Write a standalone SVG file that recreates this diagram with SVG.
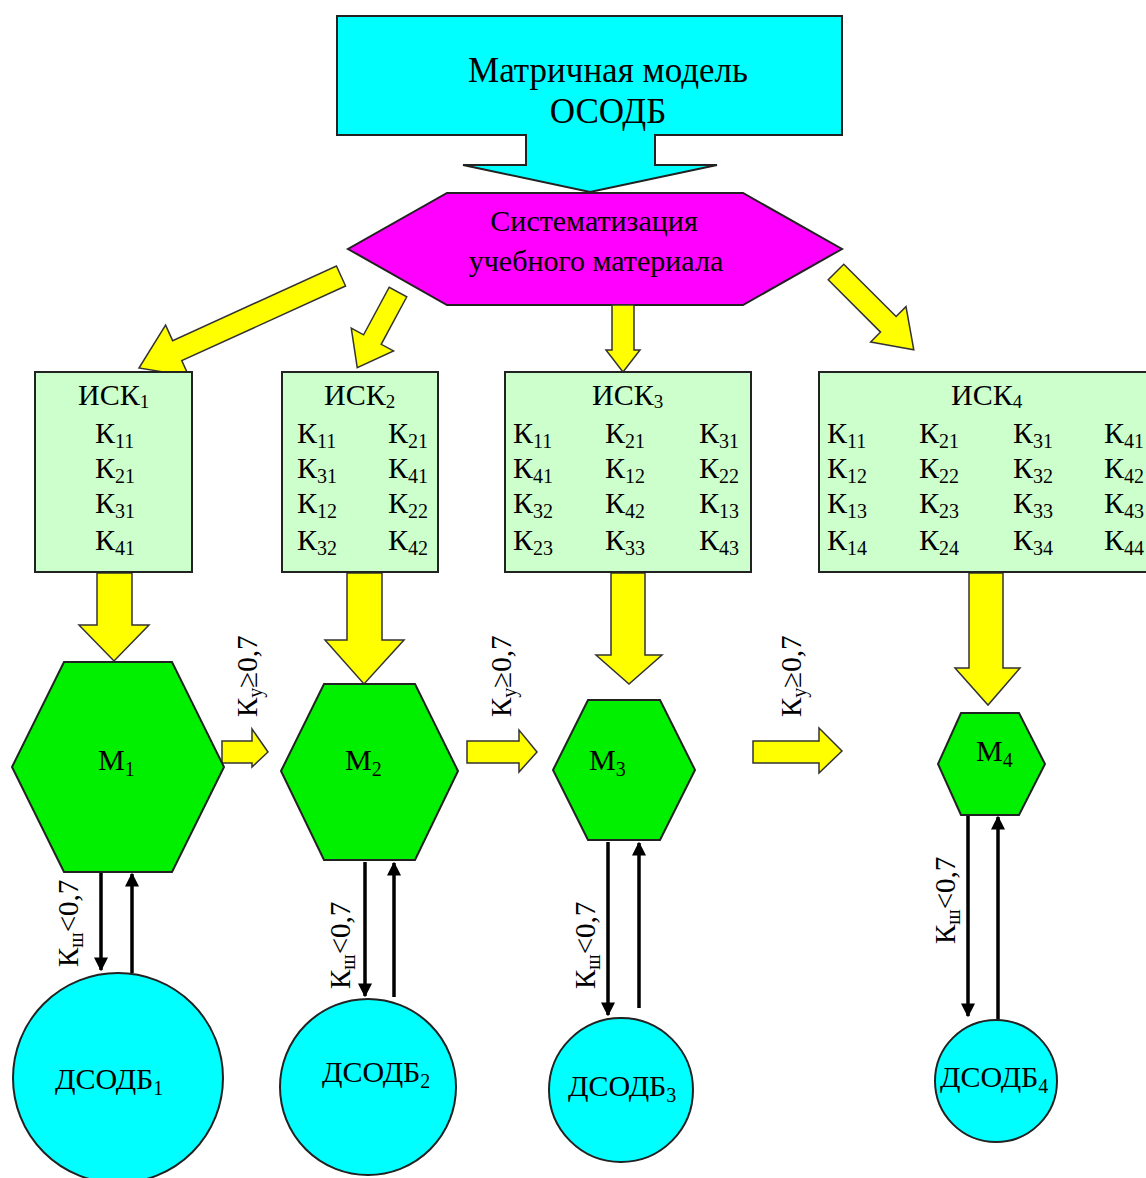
<svg xmlns="http://www.w3.org/2000/svg" width="1146" height="1178" viewBox="0 0 1146 1178">
<style>
text{font-family:"Liberation Serif","Times New Roman",serif;fill:#000}
.sh{stroke:#222;stroke-width:2;stroke-linejoin:miter}
.cyan{fill:#00FFFF}
.mag{fill:#FF00FF}
.grn{fill:#00F000}
.lg{fill:#CCFFCC}
.yel{fill:#FFFF00;stroke:#333;stroke-width:1.5}
.k{font-size:30px}
.t{font-size:35px;text-anchor:middle}
.lab{font-size:29px}
.d{font-size:30px}
.blk{stroke:#000;stroke-width:3.5;fill:none}
</style>
<defs>
<marker id="ah" viewBox="0 0 10 10" refX="9" refY="5" markerWidth="4" markerHeight="5" orient="auto" markerUnits="strokeWidth">
<path d="M0,0 L10,5 L0,10 Z" fill="#000"/>
</marker>
</defs>

<g id="top">
<path class="sh cyan" d="M337,16 H842 V135 H655 V165 H717 L590,192 L463,165 H526 V135 H337 Z"/>
<text class="t" x="608" y="82">Матричная модель</text>
<text class="t" x="608" y="123">ОСОДБ</text>
</g>

<g id="sys">
<path class="sh mag" d="M447,193 H743 L842,249 L743,305 H447 L348,249 Z"/>
<text x="594" y="231" style="font-size:30px;text-anchor:middle">Систематизация</text>
<text x="596" y="271" style="font-size:30px;text-anchor:middle">учебного материала</text>
</g>

<g id="connectors">
<path class="yel" transform="translate(341,276) rotate(155.5)" d="M0,-11 L180,-11 L180,-28 L222,0 L180,28 L180,11 L0,11 Z"/>
<path class="yel" transform="translate(398,292) rotate(118.3)" d="M0,-10 L54,-10 L54,-24 L86,0 L54,24 L54,10 L0,10 Z"/>
<path class="yel" transform="translate(623,305) rotate(90)" d="M0,-11 L45,-11 L45,-17 L67,0 L45,17 L45,11 L0,11 Z"/>
<path class="yel" transform="translate(836,272) rotate(45)" d="M0,-11 L74,-11 L74,-25 L110,0 L74,25 L74,11 L0,11 Z"/>
<path class="yel" d="M97,573 H132 V625 H149 L114,661 L79,625 H97 Z"/>
<path class="yel" d="M347,573 H382 V640 H404 L364,684 L325,640 H347 Z"/>
<path class="yel" d="M611,573 H645 V655 H662 L629,684 L596,655 H611 Z"/>
<path class="yel" d="M969,573 H1003 V668 H1020 L988,705 L955,668 H969 Z"/>
<path class="yel" d="M222,741 H252 V729 L268,752 L252,767 V763 H222 Z"/>
<path class="yel" d="M467,741 H519 V730 L537,752 L519,772 V763 H467 Z"/>
<path class="yel" d="M753,741 H819 V728 L842,751 L819,773 V763 H753 Z"/>
<line class="blk" x1="101" y1="873" x2="101" y2="970" marker-end="url(#ah)"/>
<line class="blk" x1="132" y1="973" x2="132" y2="874" marker-end="url(#ah)"/>
<line class="blk" x1="365" y1="862" x2="365" y2="996" marker-end="url(#ah)"/>
<line class="blk" x1="394" y1="997" x2="394" y2="863" marker-end="url(#ah)"/>
<line class="blk" x1="608" y1="842" x2="608" y2="1015" marker-end="url(#ah)"/>
<line class="blk" x1="639" y1="1008" x2="639" y2="843" marker-end="url(#ah)"/>
<line class="blk" x1="968" y1="816" x2="968" y2="1016" marker-end="url(#ah)"/>
<line class="blk" x1="998" y1="1020" x2="998" y2="817" marker-end="url(#ah)"/>
<text class="lab" transform="translate(257,717) rotate(-90)">К<tspan font-size="20" dy="5">у</tspan><tspan dy="-5">≥0,7</tspan></text>
<text class="lab" transform="translate(511,717) rotate(-90)">К<tspan font-size="20" dy="5">у</tspan><tspan dy="-5">≥0,7</tspan></text>
<text class="lab" transform="translate(801,717) rotate(-90)">К<tspan font-size="20" dy="5">у</tspan><tspan dy="-5">≥0,7</tspan></text>
<text class="lab" transform="translate(78,967) rotate(-90)">К<tspan font-size="20" dy="5">ш</tspan><tspan dy="-5">&lt;0,7</tspan></text>
<text class="lab" transform="translate(350,989) rotate(-90)">К<tspan font-size="20" dy="5">ш</tspan><tspan dy="-5">&lt;0,7</tspan></text>
<text class="lab" transform="translate(595,989) rotate(-90)">К<tspan font-size="20" dy="5">ш</tspan><tspan dy="-5">&lt;0,7</tspan></text>
<text class="lab" transform="translate(955,944) rotate(-90)">К<tspan font-size="20" dy="5">ш</tspan><tspan dy="-5">&lt;0,7</tspan></text>
</g>

<g id="isk1">
<rect class="sh lg" x="35" y="372" width="157" height="200"/>
<text class="k" x="78" y="405">ИСК<tspan font-size="19" dy="3">1</tspan></text>
<text class="k" x="95" y="443">К<tspan font-size="20" dy="5">11</tspan></text>
<text class="k" x="95" y="478">К<tspan font-size="20" dy="5">21</tspan></text>
<text class="k" x="95" y="513">К<tspan font-size="20" dy="5">31</tspan></text>
<text class="k" x="95" y="550">К<tspan font-size="20" dy="5">41</tspan></text>
</g>

<g id="isk2">
<rect class="sh lg" x="282" y="372" width="156" height="200"/>
<text class="k" x="324" y="405">ИСК<tspan font-size="19" dy="3">2</tspan></text>
<text class="k" x="297" y="443">К<tspan font-size="20" dy="5">11</tspan></text>
<text class="k" x="297" y="478">К<tspan font-size="20" dy="5">31</tspan></text>
<text class="k" x="297" y="513">К<tspan font-size="20" dy="5">12</tspan></text>
<text class="k" x="297" y="550">К<tspan font-size="20" dy="5">32</tspan></text>
<text class="k" x="388" y="443">К<tspan font-size="20" dy="5">21</tspan></text>
<text class="k" x="388" y="478">К<tspan font-size="20" dy="5">41</tspan></text>
<text class="k" x="388" y="513">К<tspan font-size="20" dy="5">22</tspan></text>
<text class="k" x="388" y="550">К<tspan font-size="20" dy="5">42</tspan></text>
</g>

<g id="isk3">
<rect class="sh lg" x="505" y="372" width="246" height="200"/>
<text class="k" x="592" y="405">ИСК<tspan font-size="19" dy="3">3</tspan></text>
<text class="k" x="513" y="443">К<tspan font-size="20" dy="5">11</tspan></text>
<text class="k" x="513" y="478">К<tspan font-size="20" dy="5">41</tspan></text>
<text class="k" x="513" y="513">К<tspan font-size="20" dy="5">32</tspan></text>
<text class="k" x="513" y="550">К<tspan font-size="20" dy="5">23</tspan></text>
<text class="k" x="605" y="443">К<tspan font-size="20" dy="5">21</tspan></text>
<text class="k" x="605" y="478">К<tspan font-size="20" dy="5">12</tspan></text>
<text class="k" x="605" y="513">К<tspan font-size="20" dy="5">42</tspan></text>
<text class="k" x="605" y="550">К<tspan font-size="20" dy="5">33</tspan></text>
<text class="k" x="699" y="443">К<tspan font-size="20" dy="5">31</tspan></text>
<text class="k" x="699" y="478">К<tspan font-size="20" dy="5">22</tspan></text>
<text class="k" x="699" y="513">К<tspan font-size="20" dy="5">13</tspan></text>
<text class="k" x="699" y="550">К<tspan font-size="20" dy="5">43</tspan></text>
</g>

<g id="isk4">
<rect class="sh lg" x="819" y="372" width="340" height="200"/>
<text class="k" x="951" y="405">ИСК<tspan font-size="19" dy="3">4</tspan></text>
<text class="k" x="827" y="443">К<tspan font-size="20" dy="5">11</tspan></text>
<text class="k" x="827" y="478">К<tspan font-size="20" dy="5">12</tspan></text>
<text class="k" x="827" y="513">К<tspan font-size="20" dy="5">13</tspan></text>
<text class="k" x="827" y="550">К<tspan font-size="20" dy="5">14</tspan></text>
<text class="k" x="919" y="443">К<tspan font-size="20" dy="5">21</tspan></text>
<text class="k" x="919" y="478">К<tspan font-size="20" dy="5">22</tspan></text>
<text class="k" x="919" y="513">К<tspan font-size="20" dy="5">23</tspan></text>
<text class="k" x="919" y="550">К<tspan font-size="20" dy="5">24</tspan></text>
<text class="k" x="1013" y="443">К<tspan font-size="20" dy="5">31</tspan></text>
<text class="k" x="1013" y="478">К<tspan font-size="20" dy="5">32</tspan></text>
<text class="k" x="1013" y="513">К<tspan font-size="20" dy="5">33</tspan></text>
<text class="k" x="1013" y="550">К<tspan font-size="20" dy="5">34</tspan></text>
<text class="k" x="1104" y="443">К<tspan font-size="20" dy="5">41</tspan></text>
<text class="k" x="1104" y="478">К<tspan font-size="20" dy="5">42</tspan></text>
<text class="k" x="1104" y="513">К<tspan font-size="20" dy="5">43</tspan></text>
<text class="k" x="1104" y="550">К<tspan font-size="20" dy="5">44</tspan></text>
</g>

<g id="m1">
<path class="sh grn" d="M64,662 H172 L224,767 L172,872 H64 L12,767 Z"/>
<text class="k" x="98" y="770">М<tspan font-size="20" dy="6">1</tspan></text>
</g>
<g id="m2">
<path class="sh grn" d="M324,684 H415 L458,771 L415,860 H324 L281,771 Z"/>
<text class="k" x="345" y="770">М<tspan font-size="20" dy="6">2</tspan></text>
</g>
<g id="m3">
<path class="sh grn" d="M588,700 H660 L695,770 L660,840 H588 L553,770 Z"/>
<text class="k" x="589" y="770">М<tspan font-size="20" dy="6">3</tspan></text>
</g>
<g id="m4">
<path class="sh grn" d="M961,713 H1019 L1045,764 L1019,815 H961 L938,764 Z"/>
<text class="k" x="976" y="761">М<tspan font-size="20" dy="6">4</tspan></text>
</g>

<g id="d1">
<circle class="sh cyan" cx="118" cy="1078" r="105"/>
<text class="d" x="55" y="1089">ДСОДБ<tspan font-size="20" dy="6">1</tspan></text>
</g>
<g id="d2">
<circle class="sh cyan" cx="368" cy="1087" r="88"/>
<text class="d" x="322" y="1082">ДСОДБ<tspan font-size="20" dy="6">2</tspan></text>
</g>
<g id="d3">
<circle class="sh cyan" cx="621" cy="1090" r="72"/>
<text class="d" x="568" y="1096">ДСОДБ<tspan font-size="20" dy="6">3</tspan></text>
</g>
<g id="d4">
<circle class="sh cyan" cx="996" cy="1081" r="61"/>
<text class="d" x="940" y="1087">ДСОДБ<tspan font-size="20" dy="6">4</tspan></text>
</g>
</svg>
